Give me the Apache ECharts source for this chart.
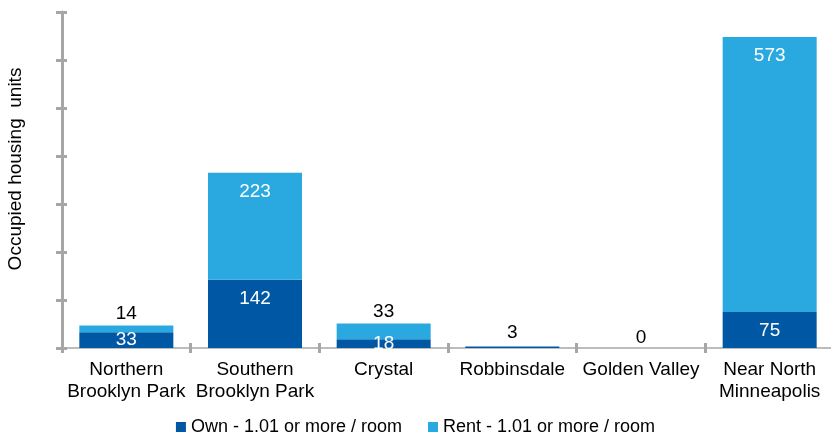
<!DOCTYPE html>
<html><head><meta charset="utf-8">
<script src="https://cdn.jsdelivr.net/npm/echarts@6/dist/echarts.min.js"></script>
<style>html,body{margin:0;padding:0;background:#fff}#c{width:831px;height:438px}</style>
</head><body><div id="c"></div>
<script>
const categories = ['Northern\nBrooklyn Park', 'Southern\nBrooklyn Park', 'Crystal', 'Robbinsdale', 'Golden Valley', 'Near North\nMinneapolis'];
const ownValues = [33, 142, 18, 3, 0, 75];
const rentValues = [14, 223, 33, 0, 0, 573];
const seriesNames = ['Own - 1.01 or more / room', 'Rent - 1.01 or more / room'];
const yMin = 0, yMax = 700, yInterval = 100;

const OWN = '#0058A4', RENT = '#2AA9E0';
const FONT = 'Liberation Sans, Arial, sans-serif';
const pxPerUnit = 336 / (yMax - yMin);

function labelFor(v, other, isOwn) {
  const h = v * pxPerUnit;
  if (v === 0) {
    if (!isOwn && other === 0) return {show: true, position: 'top', color: '#000', distance: 1};
    return {show: false};
  }
  if (h < 8) {
    if (isOwn && other === 0) return {show: true, position: 'top', color: '#000', distance: 4};
    if (!isOwn) return {show: true, position: 'top', color: '#000', distance: 2};
  }
  if (!isOwn && h < 30) return {show: true, position: 'top', color: '#000', distance: 2};
  if (h < 30) return {show: true, position: 'inside', color: '#fff'};
  return {show: true, position: 'insideTop', distance: 9, color: '#fff'};
}

const ownData = ownValues.map((v, i) => ({value: v, label: labelFor(v, rentValues[i], true)}));
const rentData = rentValues.map((v, i) => ({value: v, label: labelFor(v, ownValues[i], false)}));

const grid = {left: 62, right: -3, top: 12, bottom: 90, outerBoundsMode: 'none', containLabel: false};
const chart = echarts.init(document.getElementById('c'));
chart.setOption({
  animation: false,
  textStyle: {fontFamily: FONT},
  grid: [grid, Object.assign({}, grid)],
  legend: {
    bottom: -3, left: 'center', itemWidth: 10, itemHeight: 10, itemGap: 26,
    icon: 'rect',
    textStyle: {fontFamily: FONT, fontSize: 18, color: '#000'},
    data: seriesNames
  },
  xAxis: [
    {type: 'category', gridIndex: 0, data: categories,
     axisLine: {lineStyle: {color: '#A6A6A6', width: 1.5}},
     axisTick: {show: true, length: 5, lineStyle: {color: '#A6A6A6', width: 3}},
     axisLabel: {fontFamily: FONT, fontSize: 19, color: '#000', margin: 11, lineHeight: 22, interval: 0}},
    {type: 'category', gridIndex: 1, data: categories, position: 'bottom',
     axisLine: {show: false},
     axisTick: {show: true, inside: true, length: 5, lineStyle: {color: '#A6A6A6', width: 3}},
     axisLabel: {show: false}}
  ],
  yAxis: [
    {type: 'value', gridIndex: 0, min: yMin, max: yMax, interval: yInterval,
     name: 'Occupied housing  units', nameLocation: 'middle', nameGap: 37,
     nameTextStyle: {fontFamily: FONT, fontSize: 19, color: '#000', padding: [0, 0, 0, 22]},
     axisLine: {show: true, lineStyle: {color: '#A6A6A6', width: 3}},
     axisTick: {show: true, length: 6, lineStyle: {color: '#A6A6A6', width: 3}},
     axisLabel: {show: false}, splitLine: {show: false}},
    {type: 'value', gridIndex: 1, min: yMin, max: yMax, interval: yInterval,
     axisLine: {show: false},
     axisTick: {show: true, inside: true, length: 5, lineStyle: {color: '#A6A6A6', width: 3}},
     axisLabel: {show: false}, splitLine: {show: false}}
  ],
  series: [
    {name: seriesNames[0], type: 'bar', stack: 'a', barWidth: 94, data: ownData,
     itemStyle: {color: OWN},
     label: {fontFamily: FONT, fontSize: 19}},
    {name: seriesNames[1], type: 'bar', stack: 'a', barWidth: 94, data: rentData,
     itemStyle: {color: RENT},
     label: {fontFamily: FONT, fontSize: 19}}
  ]
});
</script></body></html>
